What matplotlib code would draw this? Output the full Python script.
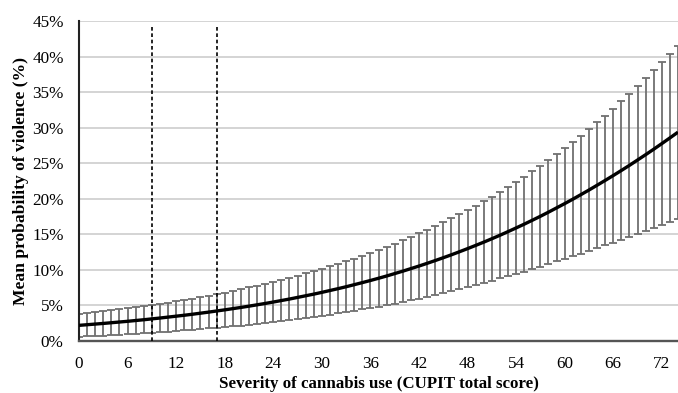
import matplotlib
matplotlib.use("Agg")
import matplotlib.pyplot as plt
from matplotlib.ticker import FixedLocator

# CUPIT total score (x) 0..74
cupit_scores = list(range(0, 75))

# Mean predicted probability of violence (%)
mean_prob = [
    2.20, 2.29, 2.38, 2.47, 2.57, 2.67, 2.77, 2.88, 2.99, 3.11,
    3.23, 3.36, 3.49, 3.62, 3.76, 3.91, 4.06, 4.22, 4.38, 4.55,
    4.72, 4.90, 5.09, 5.28, 5.48, 5.69, 5.90, 6.13, 6.36, 6.59,
    6.84, 7.10, 7.36, 7.63, 7.92, 8.21, 8.51, 8.82, 9.14, 9.48,
    9.82, 10.18, 10.54, 10.92, 11.31, 11.71, 12.12, 12.55, 12.99, 13.44,
    13.90, 14.38, 14.87, 15.38, 15.90, 16.43, 16.98, 17.54, 18.12, 18.72,
    19.32, 19.94, 20.58, 21.23, 21.90, 22.58, 23.27, 23.98, 24.70, 25.45,
    26.20, 26.97, 27.76, 28.56, 29.37,
]

# Half-width of the confidence interval (%)
ci_half = [
    1.60, 1.63, 1.67, 1.70, 1.74, 1.78, 1.82, 1.86, 1.90, 1.94,
    1.98, 2.03, 2.08, 2.13, 2.18, 2.24, 2.30, 2.36, 2.42, 2.49,
    2.56, 2.63, 2.70, 2.77, 2.84, 2.91, 2.98, 3.06, 3.14, 3.22,
    3.30, 3.39, 3.48, 3.57, 3.67, 3.77, 3.87, 3.98, 4.09, 4.21,
    4.33, 4.45, 4.58, 4.70, 4.83, 4.97, 5.11, 5.25, 5.40, 5.56,
    5.73, 5.90, 6.08, 6.27, 6.46, 6.66, 6.87, 7.08, 7.30, 7.53,
    7.76, 8.02, 8.28, 8.55, 8.83, 9.12, 9.42, 9.73, 10.05, 10.38,
    10.72, 11.07, 11.43, 11.80, 12.18,
]

# Cut-off scores marked with dashed lines
cut_points = [9, 17]

x_ticks = [0, 6, 12, 18, 24, 30, 36, 42, 48, 54, 60, 66, 72]
y_ticks = [0, 5, 10, 15, 20, 25, 30, 35, 40, 45]
y_tick_labels = [f"{v}%" for v in y_ticks]

plt.rcParams["font.family"] = ["Liberation Serif", "DejaVu Serif"]

fig = plt.figure(figsize=(6.78, 3.93), dpi=100)
ax = fig.add_axes([79 / 678, 52 / 393, 1 - 79 / 678, 320 / 393])

ax.set_xlim(0, 74)
ax.set_ylim(0, 45)

for v in y_ticks[1:]:
    ax.axhline(v, color="#d4d4d4", lw=1.4, zorder=0)

ax.errorbar(cupit_scores, mean_prob, yerr=ci_half, fmt="none",
            ecolor="#707070", elinewidth=1.3, capsize=3.0, capthick=1.3,
            zorder=2)
ax.plot(cupit_scores, mean_prob, color="black", lw=2.4, zorder=3,
        solid_capstyle="butt")

ax.vlines(cut_points, 0, 44.2, colors="black", linestyles=(0, (2.2, 1.6)),
          lw=1.2, zorder=4)

ax.xaxis.set_major_locator(FixedLocator(x_ticks))
ax.set_xticklabels([str(t) for t in x_ticks])
ax.yaxis.set_major_locator(FixedLocator(y_ticks))
ax.set_yticklabels(y_tick_labels)
ax.tick_params(axis="both", length=0, labelsize=12.3, pad=11)

for s in ("top", "right"):
    ax.spines[s].set_visible(False)
ax.spines["left"].set_color("#222222")
ax.spines["left"].set_linewidth(1.5)
ax.spines["bottom"].set_color("#555555")
ax.spines["bottom"].set_linewidth(1.7)

ax.set_xlabel("Severity of cannabis use (CUPIT total score)", fontsize=12.2,
              fontweight="bold", labelpad=3)
ax.set_ylabel("Mean probability of violence (%)", fontsize=12.6,
              fontweight="bold", labelpad=2)

fig.savefig("out.png", dpi=100)
